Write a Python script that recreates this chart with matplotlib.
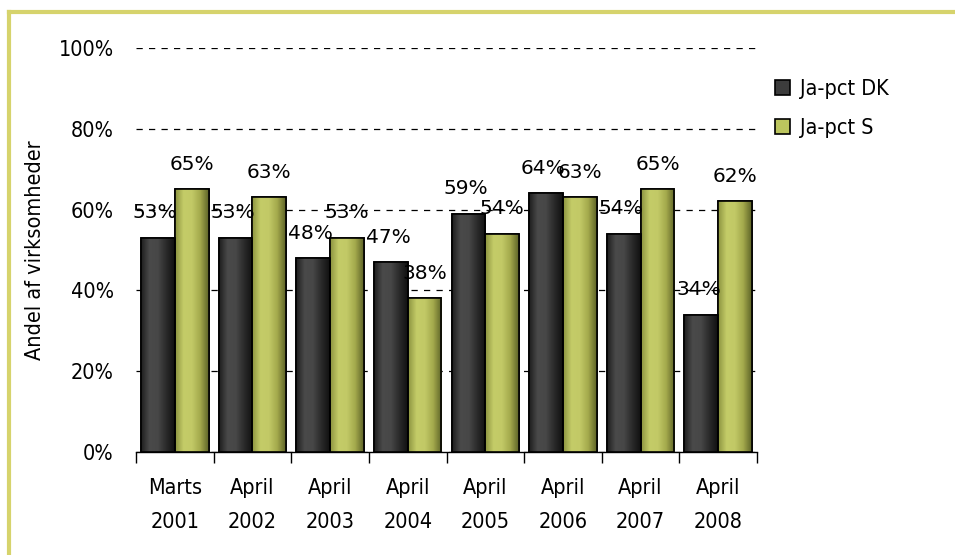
import numpy as np
import matplotlib.pyplot as plt
from matplotlib import font_manager
from matplotlib.colors import LinearSegmentedColormap
from matplotlib.patches import Rectangle

# smal skrift til akser og forklaring, hvis en findes
smal = None
for f in font_manager.fontManager.ttflist:
    navn = f.name.lower()
    if 'narrow' in navn or 'condensed' in navn or f.stretch in ('condensed', 'semi-condensed'):
        smal = f
        break
if smal is not None:
    akse_font = dict(family=smal.name, stretch=smal.stretch)
    akse_str = 15.5
else:
    akse_font = dict(family='DejaVu Sans')
    akse_str = 13.5

plt.rcParams['font.family'] = [akse_font['family'], 'DejaVu Sans']

maaned = ['Marts', 'April', 'April', 'April', 'April', 'April', 'April', 'April']
aar = ['2001', '2002', '2003', '2004', '2005', '2006', '2007', '2008']
ja_dk = [53, 53, 48, 47, 59, 64, 54, 34]
ja_s = [65, 63, 53, 38, 54, 63, 65, 62]

fig = plt.figure(figsize=(9.55, 5.55), dpi=100)
ax = fig.add_axes([0.1424, 0.1856, 0.6503, 0.728])

x = np.arange(len(aar))
w = 0.435
bars_dk = ax.bar(x - w / 2, ja_dk, w, color='#3c3c3c', edgecolor='black', linewidth=1.2,
                 label='Ja-pct DK', zorder=3)
bars_s = ax.bar(x + w / 2, ja_s, w, color='#bcc55e', edgecolor='black', linewidth=1.2,
                label='Ja-pct S', zorder=3)

# vandret gradient i søjlerne
cm_dk = LinearSegmentedColormap.from_list('dk', ['#1e1e1e', '#4a4a4a', '#474747', '#2a2a2a', '#111111'])
cm_s = LinearSegmentedColormap.from_list('s', ['#8d9440', '#c4cc68', '#c2c966', '#a3a94c', '#5f6428'])
grad = np.linspace(0, 1, 64).reshape(1, -1)
for bars, cmap in [(bars_dk, cm_dk), (bars_s, cm_s)]:
    for b in bars:
        im = ax.imshow(grad, cmap=cmap, aspect='auto', zorder=3.5,
                       extent=[b.get_x(), b.get_x() + b.get_width(), 0, b.get_height()])
        im.set_clip_path(b)
        ax.add_patch(Rectangle((b.get_x(), 0), b.get_width(), b.get_height(),
                               fill=False, edgecolor='black', linewidth=1.2, zorder=4))

# værdier over søjlerne
for b, v in zip(bars_dk, ja_dk):
    ax.annotate(f'{v}%', (b.get_x() + b.get_width() / 2, v), xytext=(-2, 18),
                textcoords='offset points', ha='center', va='center', fontsize=14.5,
                family='DejaVu Sans', zorder=5)
for b, v in zip(bars_s, ja_s):
    ax.annotate(f'{v}%', (b.get_x() + b.get_width() / 2, v), xytext=(0, 18),
                textcoords='offset points', ha='center', va='center', fontsize=14.5,
                family='DejaVu Sans', zorder=5)

ax.set_xlim(-0.5, len(aar) - 0.5)
ax.set_ylim(0, 100)
ax.set_yticks(range(0, 101, 20))
ax.set_yticklabels([f'{t}%' for t in range(0, 101, 20)], fontsize=akse_str, **akse_font)
ax.tick_params(axis='y', length=0, pad=16)
ax.yaxis.grid(True, linestyle=(0, (5, 5)), color='black', linewidth=0.9, zorder=1)

ax.set_xticks(x)
ax.set_xticklabels([f'{m}\n{a}' for m, a in zip(maaned, aar)], fontsize=akse_str,
                   linespacing=1.85, **akse_font)
ax.tick_params(axis='x', which='major', length=0, pad=19)
ax.set_xticks(np.arange(-0.5, len(aar)), minor=True)
ax.tick_params(axis='x', which='minor', length=8, width=1, direction='out')

for s in ['top', 'right', 'left']:
    ax.spines[s].set_visible(False)
ax.spines['bottom'].set_linewidth(1)

ax.set_ylabel('Andel af virksomheder', fontsize=akse_str, **akse_font)
ax.yaxis.set_label_coords(-0.1465, 0.5)

ax.legend(loc='upper left', bbox_to_anchor=(0.7916, 0.892), bbox_transform=fig.transFigure,
          frameon=False, prop=dict(size=akse_str, **akse_font), handlelength=0.7,
          handleheight=0.7, labelspacing=0.85, handletextpad=0.45)

# ramme og overskrift der er skåret af foroven
fig.add_artist(plt.Line2D([0.009, 1.0], [0.978, 0.978], color='#d6d36c', linewidth=3,
                          transform=fig.transFigure))
fig.add_artist(plt.Line2D([0.009, 0.009], [0.0, 0.978], color='#d6d36c', linewidth=3,
                          transform=fig.transFigure))
fig.text(0.0, 1.012, 'kommende 3-5 år', fontsize=akse_str, ha='left', va='center', **akse_font)

fig.savefig('out.png', dpi=100)
